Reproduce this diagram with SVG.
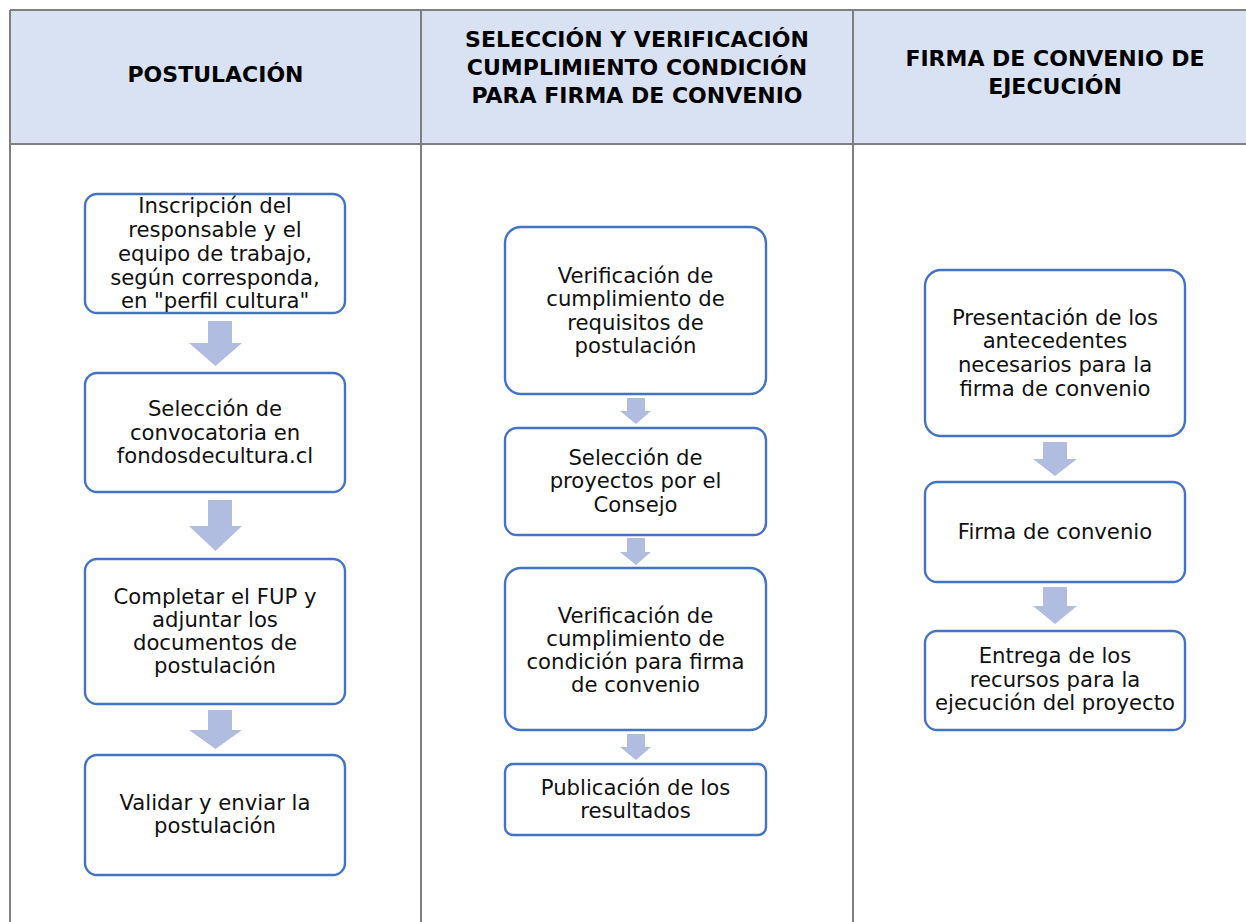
<svg xmlns="http://www.w3.org/2000/svg" width="1246" height="922" viewBox="0 0 1246 922">
<style>
.hdr{fill:#D9E2F3}
.grid{stroke:#7F7F7F;stroke-width:2;fill:none}
.box{fill:#FFFFFF;stroke:#4472C4;stroke-width:2.4}
.arr{fill:#B0BDE0}
.t{font-family:"DejaVu Sans",Verdana,sans-serif;font-size:21.2px;fill:#111;text-anchor:middle}
.h{font-family:"DejaVu Sans",Verdana,sans-serif;font-size:22px;font-weight:bold;fill:#000;text-anchor:middle}
</style>
<rect x="0" y="0" width="1246" height="922" fill="#FFFFFF"/>
<g id="table">
<rect class="hdr" x="10" y="10" width="1250" height="134"/>
<path class="grid" d="M10,10 H1260 M10,144 H1260 M10,10 V930 M421,10 V930 M853,10 V930"/>
<text class="h" x="215.5" y="82">POSTULACIÓN</text>
<text class="h" x="637" y="47">SELECCIÓN Y VERIFICACIÓN</text>
<text class="h" x="637" y="75">CUMPLIMIENTO CONDICIÓN</text>
<text class="h" x="637" y="103">PARA FIRMA DE CONVENIO</text>
<text class="h" x="1055" y="66">FIRMA DE CONVENIO DE</text>
<text class="h" x="1055" y="94">EJECUCIÓN</text>
</g>
<g id="connectors">
<path class="arr" d="M208,321 H232 V343 H242 L215.5,366 L189,343 H208 Z"/>
<path class="arr" d="M208,500 H232 V526 H242 L215.5,551 L189,526 H208 Z"/>
<path class="arr" d="M208,710 H232 V730 H242 L215.5,749 L189,730 H208 Z"/>
<path class="arr" d="M627,398 H645 V411 H651 L636,424 L620,411 H627 Z"/>
<path class="arr" d="M627,538 H645 V552 H651 L636,565 L620,552 H627 Z"/>
<path class="arr" d="M627,734 H645 V747 H651 L636,760 L620,747 H627 Z"/>
<path class="arr" d="M1043,442 H1067 V459 H1077 L1055,476 L1033,459 H1043 Z"/>
<path class="arr" d="M1043,587 H1067 V606 H1077 L1055,624 L1033,606 H1043 Z"/>
</g>
<g id="n1">
<rect class="box" x="85" y="194" width="260" height="119" rx="12"/>
<text class="t" x="215" y="213">Inscripción del</text>
<text class="t" x="215" y="237">responsable y el</text>
<text class="t" x="215" y="261">equipo de trabajo,</text>
<text class="t" x="215" y="285">según corresponda,</text>
<text class="t" x="215" y="308">en "perfil cultura"</text>
</g>
<g id="n2">
<rect class="box" x="85" y="373" width="260" height="119" rx="12"/>
<text class="t" x="215" y="416">Selección de</text>
<text class="t" x="215" y="440">convocatoria en</text>
<text class="t" x="215" y="463">fondosdecultura.cl</text>
</g>
<g id="n3">
<rect class="box" x="85" y="559" width="260" height="145" rx="12"/>
<text class="t" x="215" y="604">Completar el FUP y</text>
<text class="t" x="215" y="627">adjuntar los</text>
<text class="t" x="215" y="650">documentos de</text>
<text class="t" x="215" y="673">postulación</text>
</g>
<g id="n4">
<rect class="box" x="85" y="755" width="260" height="120" rx="12"/>
<text class="t" x="215" y="810">Validar y enviar la</text>
<text class="t" x="215" y="833">postulación</text>
</g>
<g id="n5">
<rect class="box" x="505" y="227" width="261" height="167" rx="16"/>
<text class="t" x="635.5" y="283">Verificación de</text>
<text class="t" x="635.5" y="306">cumplimiento de</text>
<text class="t" x="635.5" y="330">requisitos de</text>
<text class="t" x="635.5" y="353">postulación</text>
</g>
<g id="n6">
<rect class="box" x="505" y="428" width="261" height="107" rx="12"/>
<text class="t" x="635.5" y="465">Selección de</text>
<text class="t" x="635.5" y="488">proyectos por el</text>
<text class="t" x="635.5" y="512">Consejo</text>
</g>
<g id="n7">
<rect class="box" x="505" y="568" width="261" height="162" rx="16"/>
<text class="t" x="635.5" y="623">Verificación de</text>
<text class="t" x="635.5" y="646">cumplimiento de</text>
<text class="t" x="635.5" y="669">condición para firma</text>
<text class="t" x="635.5" y="692">de convenio</text>
</g>
<g id="n8">
<rect class="box" x="505" y="764" width="261" height="71" rx="8"/>
<text class="t" x="635.5" y="795">Publicación de los</text>
<text class="t" x="635.5" y="818">resultados</text>
</g>
<g id="n9">
<rect class="box" x="925" y="270" width="260" height="166" rx="16"/>
<text class="t" x="1055" y="325">Presentación de los</text>
<text class="t" x="1055" y="348">antecedentes</text>
<text class="t" x="1055" y="372">necesarios para la</text>
<text class="t" x="1055" y="396">firma de convenio</text>
</g>
<g id="n10">
<rect class="box" x="925" y="482" width="260" height="100" rx="12"/>
<text class="t" x="1055" y="539">Firma de convenio</text>
</g>
<g id="n11">
<rect class="box" x="925" y="631" width="260" height="99" rx="12"/>
<text class="t" x="1055" y="663">Entrega de los</text>
<text class="t" x="1055" y="687">recursos para la</text>
<text class="t" x="1055" y="710">ejecución del proyecto</text>
</g>
</svg>
